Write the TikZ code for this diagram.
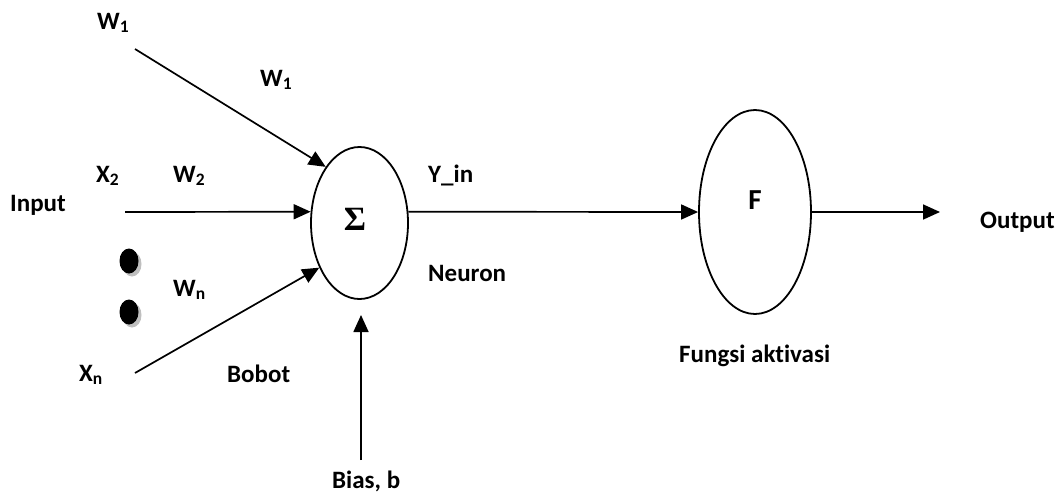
\documentclass[tikz,border=0pt]{standalone}
\usepackage{fontspec}
\setmainfont{Carlito}[Ligatures=NoCommon]
\newfontfamily\sigmafont{Liberation Serif}
\usetikzlibrary{arrows.meta,shapes.geometric}

\tikzset{
  lbl/.style={anchor=base west, inner sep=0pt, font=\fontsize{25}{30}\selectfont\bfseries},
  unit/.style={ellipse, draw, line width=1.8pt, inner sep=0pt},
  arr/.style={line width=1.7pt, -{Triangle[length=17pt,width=15pt]}},
  dotblk/.style={fill=black},
  dotshade/.style={fill=black!25},
}

\begin{document}
\begin{tikzpicture}[x=1pt, y=-1pt]
  \useasboundingbox (0,0) rectangle (1060,493);

  % summing unit and activation unit
  \node[unit, minimum width=97pt, minimum height=152pt] (sig) at (359.5,223) {};
  \node[inner sep=0pt, anchor=base, font=\fontsize{34}{40}\sigmafont\bfseries] (sigma) at (355,230) {Σ};
  \node[unit, minimum width=112pt, minimum height=204pt] (F) at (755,212) {};
  \node[inner sep=0pt, anchor=base, font=\fontsize{29}{34}\selectfont\bfseries] (ftxt) at (755,209) {F};

  % labels
  \node[lbl] (w1a) at (97,29) {W\textsubscript{1}};
  \node[lbl] (w1b) at (260,86) {W\textsubscript{1}};
  \node[lbl] (x2) at (96,182) {X\textsubscript{2}};
  \node[lbl] (w2) at (173,182) {W\textsubscript{2}};
  \node[lbl] (inp) at (10,211) {Input};
  \node[lbl] (wn) at (173,296) {W\textsubscript{n}};
  \node[lbl] (xn) at (79,381) {X\textsubscript{n}};
  \node[lbl] (bobot) at (227,382) {Bobot};
  \node[lbl] (bias) at (332,488) {Bias, b};
  \node[lbl] (yin) at (428,182) {Y\_in};
  \node[lbl] (neuron) at (428,281) {Neuron};
  \node[lbl] (out) at (980,228) {Output};
  \node[lbl] (fungsi) at (679,362) {Fungsi aktivasi};

  % ellipsis dots between the inputs
  \fill[dotshade] (132,264) ellipse [x radius=9.5pt, y radius=12.5pt];
  \fill[dotblk] (129,261) ellipse [x radius=9.5pt, y radius=12.5pt];
  \fill[dotshade] (132,315) ellipse [x radius=9.5pt, y radius=12.5pt];
  \fill[dotblk] (129,312) ellipse [x radius=9.5pt, y radius=12.5pt];

  % free ends of the connectors
  \coordinate (w1start) at (135,49);
  \coordinate (x2start) at (125,212);
  \coordinate (xnstart) at (135,373);
  \coordinate (biasstart) at (361,460);
  \coordinate (biasend) at (361,315);
  \coordinate (outend) at (940,212);

  % connectors
  \draw[arr] (w1start) -- (sig.121);
  \draw[arr] (x2start) -- (sig.167);
  \draw[arr] (xnstart) -- (sig.228);
  \draw[arr] (biasstart) -- (biasend);
  \draw[arr] (sig.13) -- (F.west);
  \draw[arr] (F.east) -- (outend);
\end{tikzpicture}
\end{document}
